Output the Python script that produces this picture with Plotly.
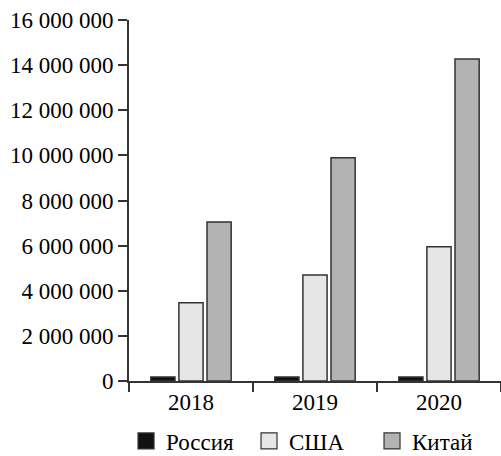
import plotly.graph_objects as go

years = ["2018", "2019", "2020"]
series_names = ["Россия", "США", "Китай"]
russia = [180000, 180000, 180000]
usa = [3470000, 4700000, 5950000]
china = [7050000, 9900000, 14270000]
y_ticks = [0, 2000000, 4000000, 6000000, 8000000, 10000000, 12000000, 14000000, 16000000]

fills = ["#111111", "#e6e6e6", "#b3b3b3"]
edge = "#333333"
font_family = "Liberation Serif"
font_size = 23

fig = go.Figure()
for name, vals, col in zip(series_names, [russia, usa, china], fills):
    fig.add_trace(go.Bar(
        x=years, y=vals, name=name, showlegend=False,
        marker=dict(color=col, line=dict(color=edge, width=1.5)),
    ))
# legend entries with larger square swatches
for name, col in zip(series_names, fills):
    fig.add_trace(go.Scatter(
        x=[None], y=[None], mode="markers", name=name,
        marker=dict(symbol="square", size=16, color=col, line=dict(color=edge, width=1.2)),
    ))

fig.update_layout(
    width=501, height=456,
    margin=dict(l=129, r=0, t=20, b=75, autoexpand=False),
    paper_bgcolor="white", plot_bgcolor="white",
    font=dict(family=font_family, size=font_size, color="#000000"),
    separators=", ",
    barmode="group", bargap=0.32, bargroupgap=0.14,
    showlegend=True,
    legend=dict(orientation="h", x=-0.008, xanchor="left", y=-0.166, yanchor="middle",
                font=dict(family=font_family, size=font_size), itemwidth=30, tracegroupgap=0,
                entrywidth=78, entrywidthmode="pixels"),
)
fig.update_xaxes(
    type="category", tickson="boundaries", ticks="outside", ticklen=9, tickwidth=1.5,
    tickcolor=edge, showline=True, linecolor=edge, linewidth=1.5, showgrid=False,
    range=[-0.5, 2.5], zeroline=False,
)
fig.update_yaxes(
    range=[0, 16000000], tickvals=y_ticks, tickformat=",d", ticks="outside", ticklen=9,
    tickwidth=1.5, tickcolor=edge, showline=True, linecolor=edge, linewidth=2,
    showgrid=False, zeroline=False,
)

fig.write_html("out.html")
